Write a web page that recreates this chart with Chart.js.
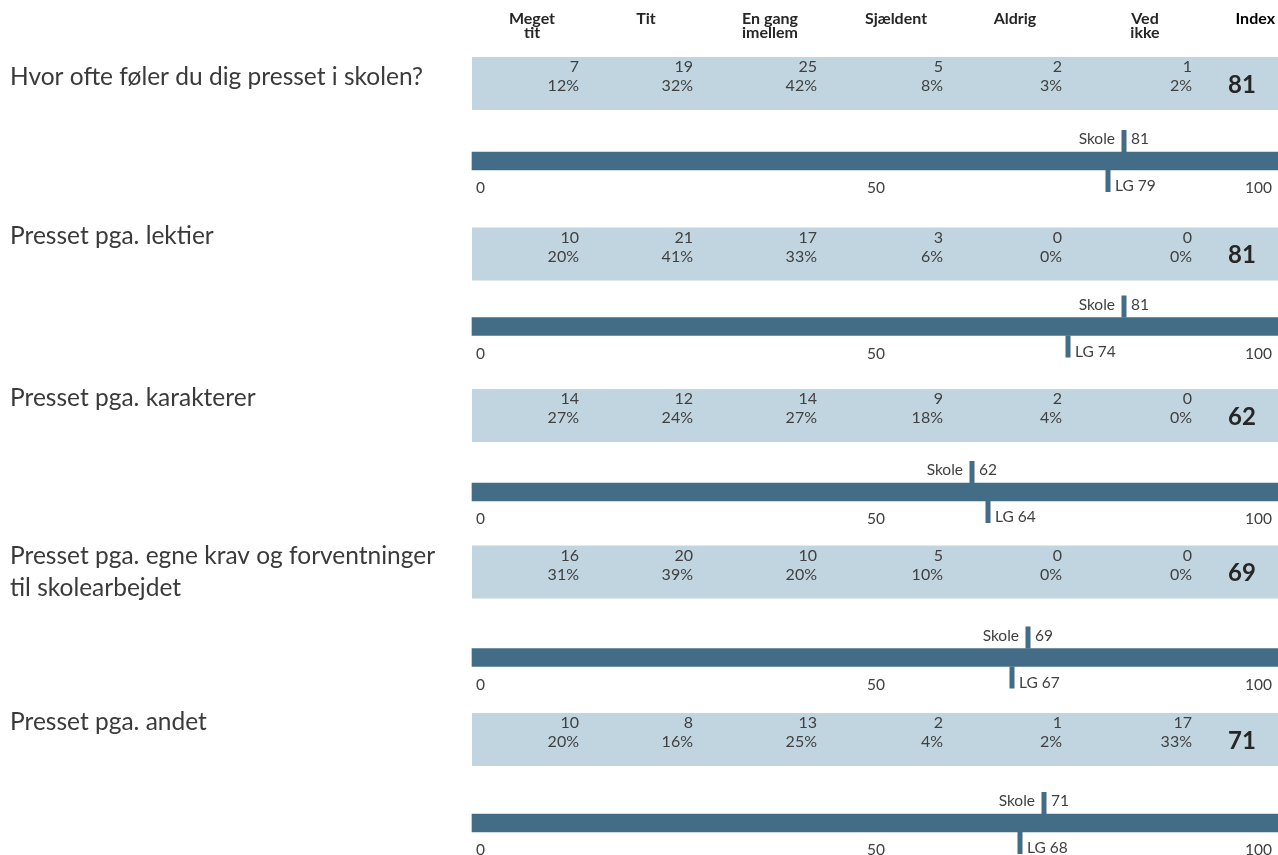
<!DOCTYPE html>
<html>
<head>
<meta charset="utf-8">
<title>Presset i skolen</title>
<script src="https://cdn.jsdelivr.net/npm/chart.js@4.4.1/dist/chart.umd.min.js"></script>
<style>
  html, body { margin: 0; padding: 0; background: #fff; }
  #wrap { width: 1278px; height: 855px; }
</style>
</head>
<body>
<div id="wrap"><canvas id="chart" width="1278" height="855"></canvas></div>
<script>
// Questions, one per row (arrays = line breaks)
const questions = [
    ['Hvor ofte føler du dig presset i skolen?'],
    ['Presset pga. lektier'],
    ['Presset pga. karakterer'],
    ['Presset pga. egne krav og forventninger', 'til skolearbejdet'],
    ['Presset pga. andet']
];

// Answer columns of the table
const answers = [['Meget', 'tit'], ['Tit'], ['En gang', 'imellem'], ['Sjældent'], ['Aldrig'], ['Ved', 'ikke']];

// Number of answers per column
const counts = [
    [7, 19, 25, 5, 2, 1],
    [10, 21, 17, 3, 0, 0],
    [14, 12, 14, 9, 2, 0],
    [16, 20, 10, 5, 0, 0],
    [10, 8, 13, 2, 1, 17]
];

// Share per column (%)
const percents = [
    [12, 32, 42, 8, 3, 2],
    [20, 41, 33, 6, 0, 0],
    [27, 24, 27, 18, 4, 0],
    [31, 39, 20, 10, 0, 0],
    [20, 16, 25, 4, 2, 33]
];

// Index values
const skoleIndex = [81, 81, 62, 69, 71];
const lgIndex = [79, 74, 64, 67, 68];

// Tick labels of the 0-100 scale
const xTicks = [0, 50, 100];

// Styling
const DARK = '#436d87';
const BAND = '#c1d5e0';
const TEXT = '#404040';
const HEAD = '#262626';
const FONT = 'Lato, "Open Sans", sans-serif';

// Scale reaches a little past 0 and 100, like the track in the original
const X_MIN = -0.5;
const X_MAX = 100.25;

// Table columns: right edge of the values, from the left of the chart area
const colRight = [107, 221, 345, 471, 590, 720];
const indexCenter = 770;
const indexHeadRight = 803;

// Layout: top of each table band relative to its bar centre (the report isn't evenly spaced)
const bandOffset = [-104, -99, -103, -112, -110];
// question text: first line relative to band top
const labelOffset = [20, 9, 9, 11, 9];
const BAND_H = 53;

// Draw the light blue table above each bar
const tablePlugin = {
    id: 'table',
    beforeDatasetsDraw(chart) {
        const { ctx, chartArea, scales: { y } } = chart;
        const left = chartArea.left;
        ctx.save();
        ctx.textBaseline = 'middle';

        // column headers above the first band
        const firstTop = y.getPixelForValue(0) + bandOffset[0];
        ctx.fillStyle = HEAD;
        ctx.font = 'bold 16px ' + FONT;
        ctx.textAlign = 'center';
        answers.forEach((lines, c) => {
            lines.forEach((line, l) => {
                ctx.fillText(line, left + colRight[c] - 47, firstTop - 38 + l * 14);
            });
        });
        ctx.fillStyle = '#000';
        ctx.textAlign = 'right';
        ctx.fillText('Index', left + indexHeadRight, firstTop - 38);

        questions.forEach((q, i) => {
            const top = y.getPixelForValue(i) + bandOffset[i];
            ctx.fillStyle = BAND;
            ctx.fillRect(left, top, chartArea.right - left, BAND_H);

            ctx.fillStyle = TEXT;
            ctx.font = '16px ' + FONT;
            ctx.textAlign = 'right';
            counts[i].forEach((n, c) => {
                ctx.fillText(String(n), left + colRight[c], top + 10);
                ctx.fillText(percents[i][c] + '%', left + colRight[c], top + 29);
            });

            ctx.fillStyle = HEAD;
            ctx.font = 'bold 24px ' + FONT;
            ctx.textAlign = 'center';
            ctx.fillText(String(skoleIndex[i]), left + indexCenter, top + 28);

            // question text to the left
            ctx.fillStyle = '#3a3a3a';
            ctx.font = '24.5px ' + FONT;
            ctx.textAlign = 'left';
            const lines = y.getLabels()[i];
            lines.forEach((line, l) => {
                ctx.fillText(line, 10, top + labelOffset[i] + l * 32);
            });
        });
        ctx.restore();
    }
};

// Skole / LG markers and the 0-50-100 labels under each bar
const markerPlugin = {
    id: 'markers',
    afterDatasetsDraw(chart) {
        const { ctx, scales: { x, y } } = chart;
        ctx.save();
        ctx.textBaseline = 'middle';
        ctx.font = '15.5px ' + FONT;
        questions.forEach((q, i) => {
            const cy = y.getPixelForValue(i);

            const sx = x.getPixelForValue(skoleIndex[i]);
            ctx.fillStyle = DARK;
            ctx.fillRect(sx - 2.5, cy - 9 - 22, 5, 22);
            ctx.fillStyle = TEXT;
            ctx.textAlign = 'right';
            ctx.fillText('Skole', sx - 9, cy - 22);
            ctx.textAlign = 'left';
            ctx.fillText(String(skoleIndex[i]), sx + 7, cy - 22);

            const lx = x.getPixelForValue(lgIndex[i]);
            ctx.fillStyle = DARK;
            ctx.fillRect(lx - 2.5, cy + 9, 5, 22);
            ctx.fillStyle = TEXT;
            ctx.textAlign = 'left';
            ctx.fillText('LG ' + lgIndex[i], lx + 7, cy + 25);

            const last = x.ticks.length - 1;
            x.ticks.forEach((t, k) => {
                const px = x.getPixelForValue(t.value);
                ctx.textAlign = k === 0 ? 'left' : (k === last ? 'right' : 'center');
                ctx.fillText(String(t.value), k === last ? px - 4 : px, cy + 27);
            });
        });
        ctx.restore();
    }
};

const ctx = document.getElementById('chart').getContext('2d');
new Chart(ctx, {
    type: 'bar',
    data: {
        labels: questions,
        datasets: [{
            label: 'Index',
            data: questions.map(() => [X_MIN, X_MAX]),
            backgroundColor: DARK,
            borderWidth: 0,
            barThickness: 18,
            clip: false
        }]
    },
    options: {
        indexAxis: 'y',
        responsive: false,
        animation: false,
        layout: { padding: { left: 472, right: 0, top: 161, bottom: 32 } },
        scales: {
            x: {
                type: 'linear',
                min: X_MIN,
                max: X_MAX,
                display: false,
                afterBuildTicks: (scale) => {
                    scale.ticks = xTicks.map(v => ({ value: v }));
                }
            },
            y: {
                type: 'category',
                offset: false,
                display: false
            }
        },
        plugins: {
            legend: { display: false },
            tooltip: { enabled: false }
        }
    },
    plugins: [tablePlugin, markerPlugin]
});
</script>
</body>
</html>
